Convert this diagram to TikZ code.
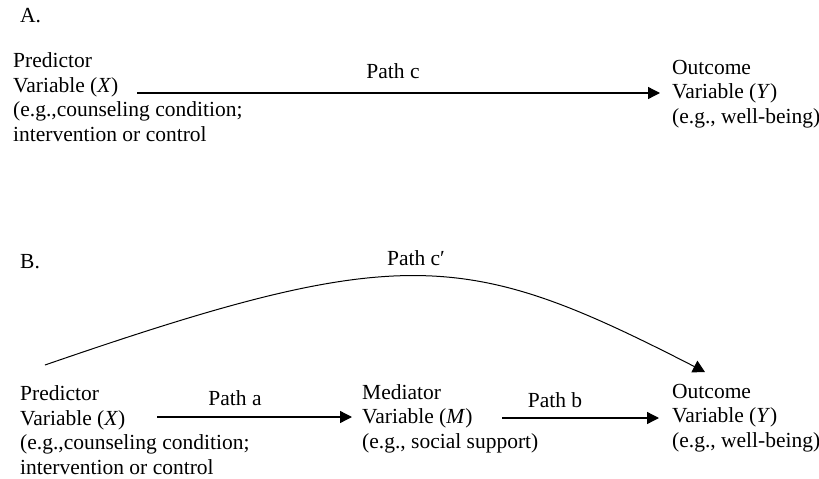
\documentclass[tikz,border=0pt]{standalone}
\usepackage{fontspec}
\setmainfont{Liberation Serif}
\usetikzlibrary{arrows.meta}
\tikzset{
  txt/.style={inner sep=0pt, anchor=base west, align=left, font=\fontsize{21.5}{24.5}\selectfont},
  lbl/.style={inner sep=0pt, anchor=base, font=\fontsize{21.5}{24.5}\selectfont},
  conn/.style={line width=1.3pt, -{Triangle[length=12pt,width=12pt]}},
  curveconn/.style={line width=1pt, -{Triangle[length=12pt,width=13pt]}},
}
\begin{document}
\begin{tikzpicture}[x=1pt,y=-1pt]
\useasboundingbox (0,0) rectangle (819,479);
% Panel A
\node[txt] (labA) at (20,23) {A.};
\node[txt] (pA) at (13,141) {Predictor\\Variable (\textit{X})\\(e.g.,counseling condition;\\intervention or control};
\node[txt] (oA) at (672,123) {Outcome\\Variable (\textit{Y})\\(e.g., well-being)};
\coordinate (sA) at (137,93);
\coordinate (eA) at (660,93);
\draw[conn] (sA) -- (eA);
\node[lbl] (pc) at (393,78) {Path c};
% Panel B
\node[txt] (labB) at (20,268) {B.};
\node[txt] (pB) at (20,474) {Predictor\\Variable (\textit{X})\\(e.g.,counseling condition;\\intervention or control};
\node[txt] (mB) at (362,448) {Mediator\\Variable (\textit{M})\\(e.g., social support)};
\node[txt] (oB) at (672,447) {Outcome\\Variable (\textit{Y})\\(e.g., well-being)};
\coordinate (sa) at (157,417);
\coordinate (ea) at (352,417);
\coordinate (sb) at (502,418);
\coordinate (eb) at (659,418);
\draw[conn] (sa) -- (ea);
\draw[conn] (sb) -- (eb);
\node[lbl] (pa) at (235,405) {Path a};
\node[lbl] (pbl) at (555,407) {Path b};
\coordinate (sc) at (45,365);
\coordinate (ec) at (705,372);
\draw[curveconn] (sc) .. controls (404,241) and (467,250) .. (ec);
\node[lbl] (pcp) at (416,265) {Path c′};
\end{tikzpicture}
\end{document}
